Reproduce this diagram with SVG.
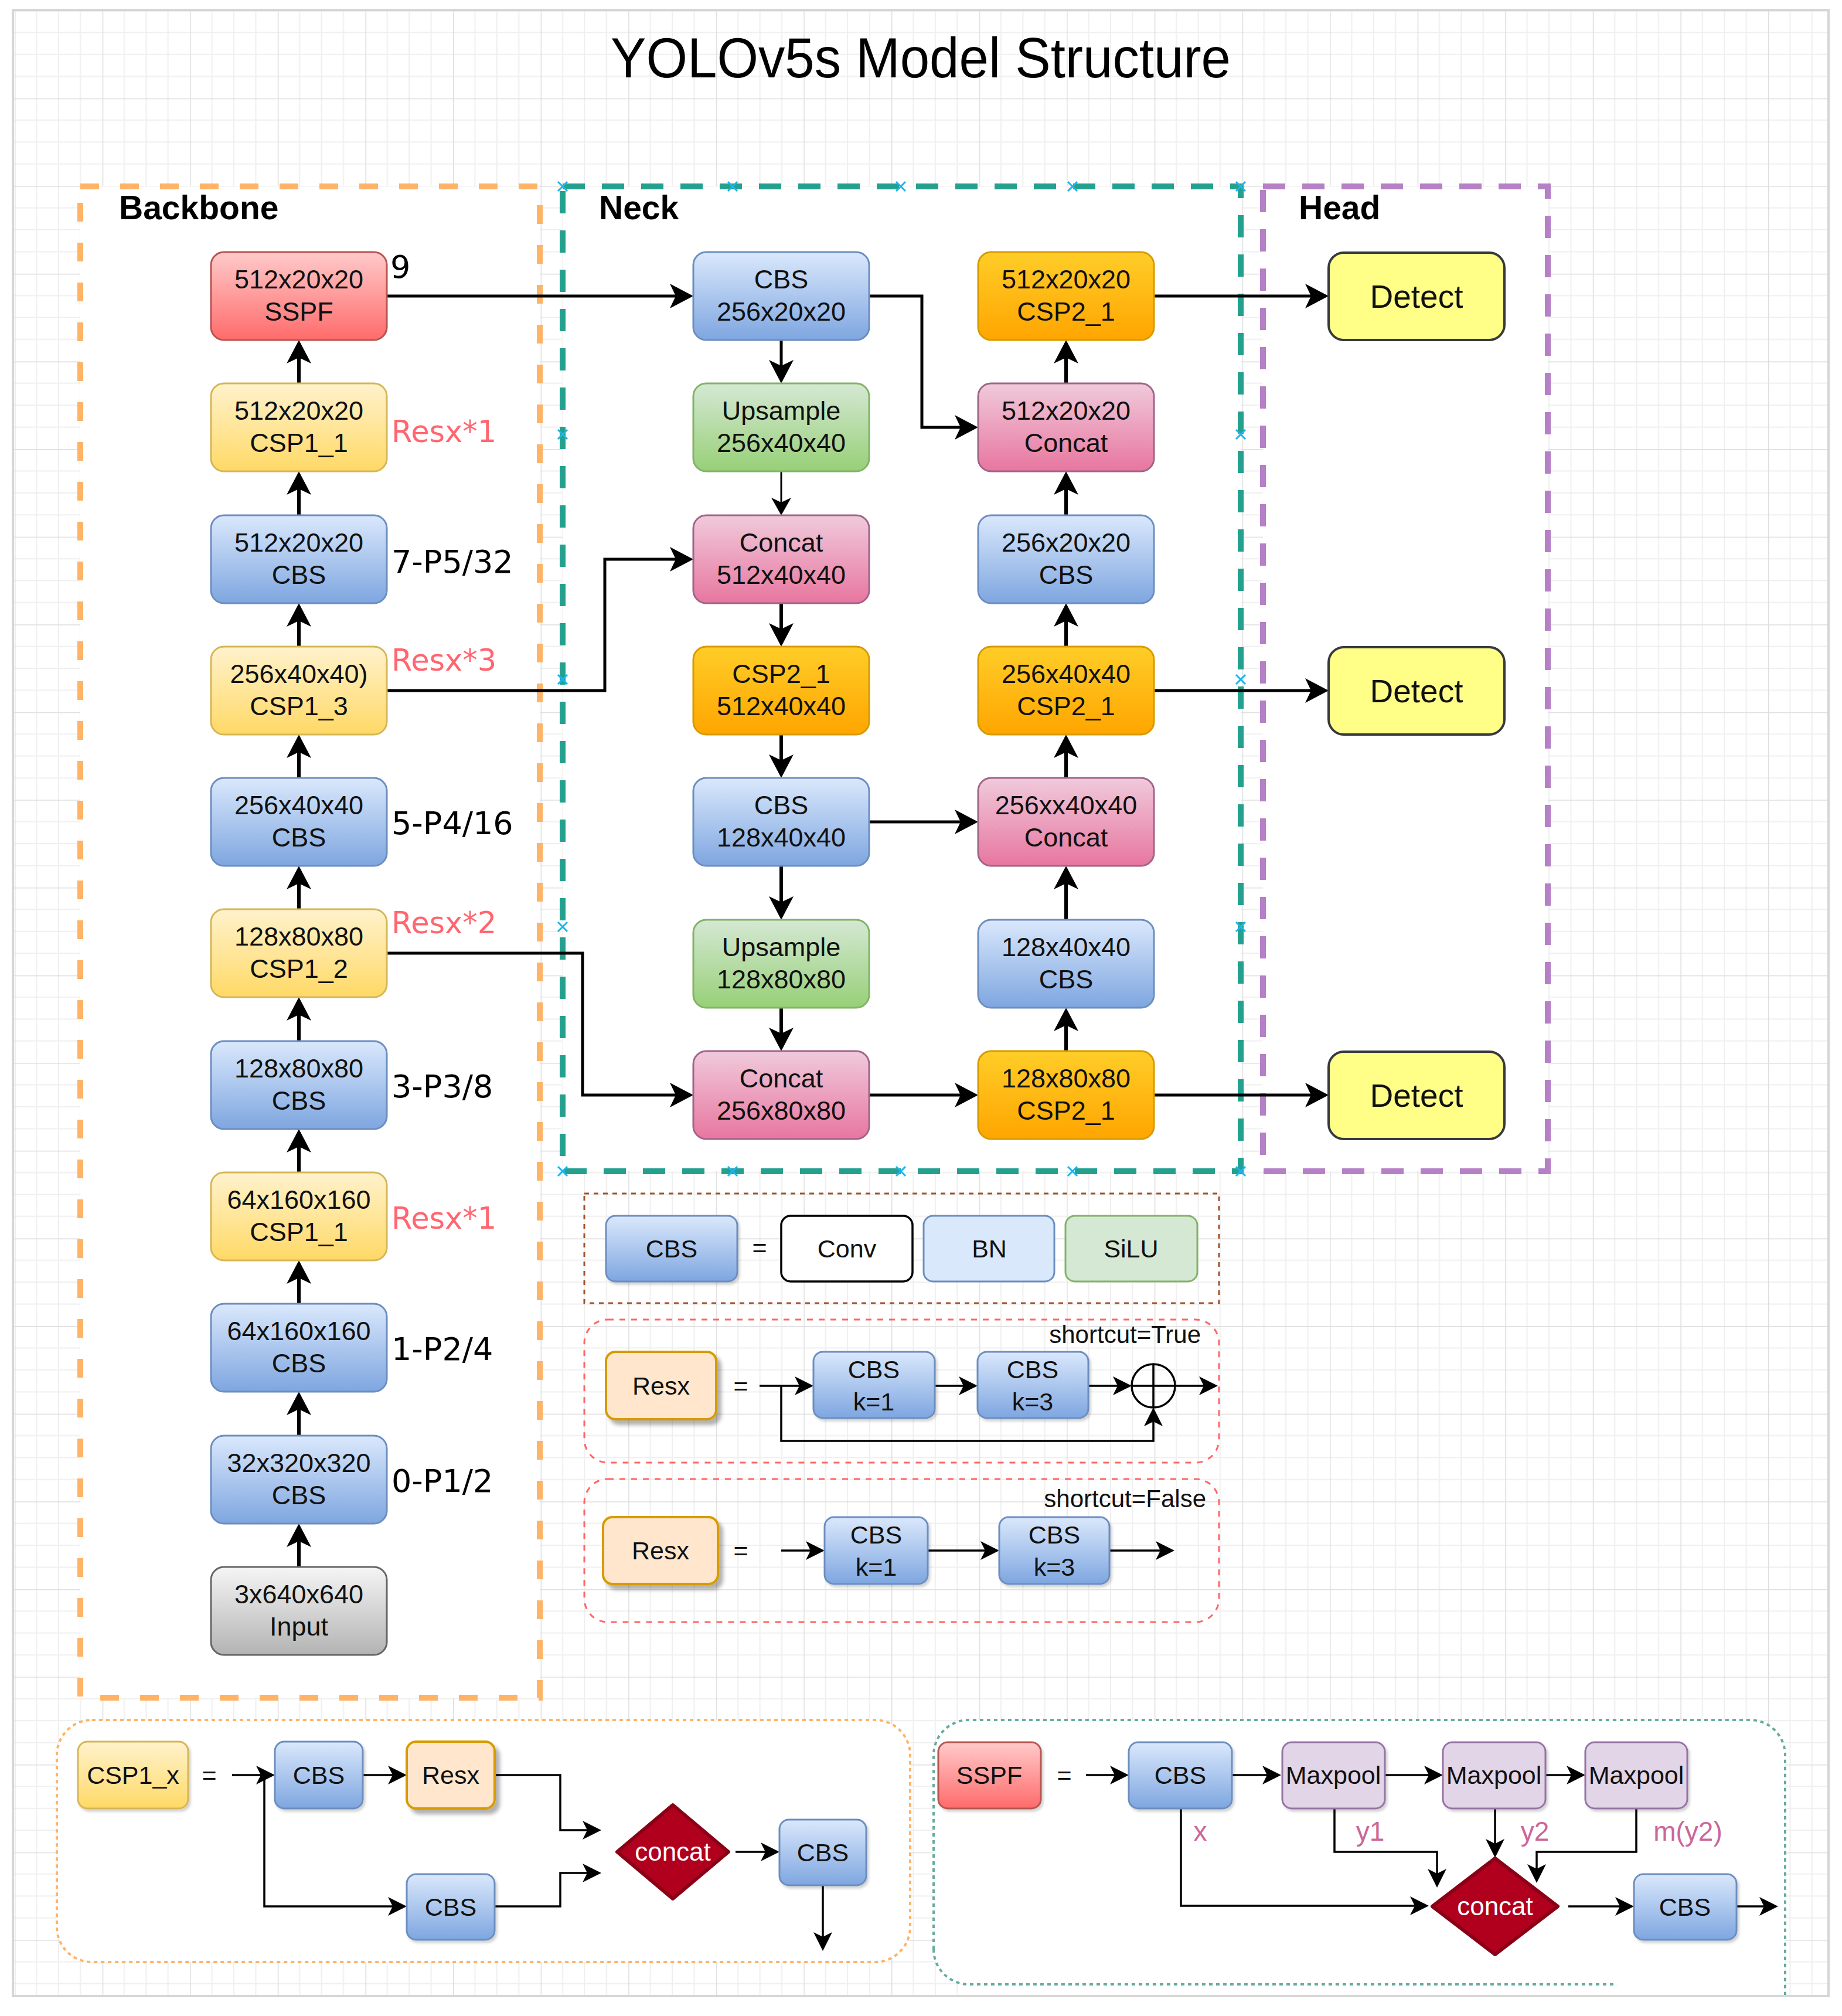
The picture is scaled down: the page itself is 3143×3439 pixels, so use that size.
<svg xmlns="http://www.w3.org/2000/svg" width="3143" height="3439" viewBox="0 0 3143 3439">
<defs>
<pattern id="grid" x="25" y="18" width="149.6" height="149.6" patternUnits="userSpaceOnUse">
<path d="M37.4,0V149.6M74.8,0V149.6M112.2,0V149.6M0,37.4H149.6M0,74.8H149.6M0,112.2H149.6" stroke="#efefef" stroke-width="2" fill="none"/>
<path d="M0,0V149.6M0,0H149.6" stroke="#dedede" stroke-width="3" fill="none"/>
</pattern>
<linearGradient id="gBlue" x1="0" y1="0" x2="0" y2="1"><stop offset="0" stop-color="#dae8fc"/><stop offset="1" stop-color="#7ea6e0"/></linearGradient>
<linearGradient id="gYel" x1="0" y1="0" x2="0" y2="1"><stop offset="0" stop-color="#fff2cc"/><stop offset="1" stop-color="#ffd966"/></linearGradient>
<linearGradient id="gRed" x1="0" y1="0" x2="0" y2="1"><stop offset="0" stop-color="#ffcaca"/><stop offset="1" stop-color="#ff6b6b"/></linearGradient>
<linearGradient id="gGrn" x1="0" y1="0" x2="0" y2="1"><stop offset="0" stop-color="#d5e8d4"/><stop offset="1" stop-color="#97d077"/></linearGradient>
<linearGradient id="gPink" x1="0" y1="0" x2="0" y2="1"><stop offset="0" stop-color="#f0cadb"/><stop offset="1" stop-color="#e8769f"/></linearGradient>
<linearGradient id="gOr" x1="0" y1="0" x2="0" y2="1"><stop offset="0" stop-color="#ffcd28"/><stop offset="1" stop-color="#ffa500"/></linearGradient>
<linearGradient id="gGray" x1="0" y1="0" x2="0" y2="1"><stop offset="0" stop-color="#f5f5f5"/><stop offset="1" stop-color="#b3b3b3"/></linearGradient>
<filter id="sh" x="-20%" y="-20%" width="150%" height="150%"><feDropShadow dx="7" dy="8" stdDeviation="3" flood-color="#000" flood-opacity="0.3"/></filter>
<filter id="sh2" x="-20%" y="-20%" width="150%" height="150%"><feDropShadow dx="3" dy="4" stdDeviation="2" flood-color="#000" flood-opacity="0.18"/></filter>
<marker id="ab" viewBox="0 -21 40 42" refX="10" refY="0" markerWidth="40" markerHeight="42" markerUnits="userSpaceOnUse" orient="auto"><path d="M0,-21 L40,0 L0,21 L10,0 Z" fill="#000"/></marker>
<marker id="am" viewBox="0 -17 30 34" refX="8" refY="0" markerWidth="30" markerHeight="34" markerUnits="userSpaceOnUse" orient="auto"><path d="M0,-17 L30,0 L0,17 L8,0 Z" fill="#000"/></marker>
<marker id="as" viewBox="0 -16 32 32" refX="8" refY="0" markerWidth="32" markerHeight="32" markerUnits="userSpaceOnUse" orient="auto"><path d="M0,-16 L32,0 L0,16 L8,0 Z" fill="#000"/></marker>
<path id="xm" d="M-8,-8L8,8M-8,8L8,-8" stroke="#19b5f0" stroke-width="3" fill="none"/>
</defs>
<style>
.t{font-family:"Liberation Sans",Arial,sans-serif;font-size:45px;text-anchor:middle;fill:#111}
.td{font-family:"Liberation Sans",Arial,sans-serif;font-size:55px;text-anchor:middle;fill:#111}
.ts{font-family:"Liberation Sans",Arial,sans-serif;font-size:43px;text-anchor:middle;fill:#111}
.te{font-family:"Liberation Sans",Arial,sans-serif;font-size:42px;text-anchor:end;fill:#111}
.tw{font-family:"Liberation Sans",Arial,sans-serif;font-size:44px;text-anchor:middle;fill:#fff}
.side{font-family:"DejaVu Sans",sans-serif;font-size:54px;fill:#000}
.res{font-family:"DejaVu Sans",sans-serif;font-size:51px;fill:#ff6670}
.hdr{font-family:"Liberation Sans",Arial,sans-serif;font-size:57px;font-weight:bold;fill:#000}
.lbl{font-family:"Liberation Sans",Arial,sans-serif;font-size:46px;fill:#cc6699;text-anchor:middle}
.blue{fill:url(#gBlue);stroke:#6c8ebf;stroke-width:3}
.yel{fill:url(#gYel);stroke:#d6b656;stroke-width:3}
.red{fill:url(#gRed);stroke:#b85450;stroke-width:3}
.grn{fill:url(#gGrn);stroke:#82b366;stroke-width:3}
.pink{fill:url(#gPink);stroke:#a0648a;stroke-width:3}
.or{fill:url(#gOr);stroke:#d79b00;stroke-width:3}
.gray{fill:url(#gGray);stroke:#666;stroke-width:3}
.det{fill:#ffff88;stroke:#36393d;stroke-width:4}
.peach{fill:#ffe6cc;stroke:#d79b00;stroke-width:4}
.mp{fill:#e1d5e7;stroke:#9673a6;stroke-width:3}
.dia{fill:#b0001e;stroke:#8a0016;stroke-width:6;stroke-linejoin:round}
.c6{fill:none;stroke:#000;stroke-width:6}
.c5{fill:none;stroke:#000;stroke-width:5}
.c3{fill:none;stroke:#000;stroke-width:3}
.cs{fill:none;stroke:#000;stroke-width:3.5}
</style>
<rect x="0" y="0" width="3143" height="3439" fill="#fff"/>
<rect x="22" y="17" width="3098" height="3388" fill="url(#grid)"/>
<rect x="22" y="17" width="3098" height="3388" fill="none" stroke="#d6d6d6" stroke-width="4"/>
<text x="1571" y="132" font-family="Liberation Sans, Arial, sans-serif" font-size="96" text-anchor="middle" textLength="1058" lengthAdjust="spacingAndGlyphs" fill="#000">YOLOv5s Model Structure</text>

<g id="containers">
<rect id="backbone" x="137" y="318" width="784" height="2578" fill="#fff" stroke="#ffb366" stroke-width="10" stroke-dasharray="32 36"/>
<rect id="neck" x="960" y="318" width="1157" height="1680" fill="#fff" stroke="#24a08e" stroke-width="10" stroke-dasharray="38 29"/>
<rect id="head" x="2155" y="318" width="486" height="1680" fill="#fff" stroke="#b580c6" stroke-width="10" stroke-dasharray="38 29"/>
<text class="hdr" x="203" y="374">Backbone</text>
<text class="hdr" x="1022" y="374">Neck</text>
<text class="hdr" x="2216" y="374">Head</text>
<rect id="legend-cbs" x="997" y="2036" width="1083" height="187" fill="none" stroke="#a0522d" stroke-width="3" stroke-dasharray="8 8"/>
<rect id="legend-res-true" x="997" y="2251" width="1083" height="244" rx="40" fill="none" stroke="#ff6666" stroke-width="3" stroke-dasharray="10 10"/>
<rect id="legend-res-false" x="997" y="2523" width="1083" height="244" rx="40" fill="none" stroke="#ff6666" stroke-width="3" stroke-dasharray="10 10"/>
<rect id="legend-csp" x="97" y="2934" width="1456" height="413" rx="60" fill="#fff" stroke="#ffb366" stroke-width="4" stroke-dasharray="6 6"/>
<path id="legend-sspf-bg" d="M1593,2994A60,60 0 0 1 1653,2934H2986A60,60 0 0 1 3046,2994V3403H1653V3385A60,60 0 0 1 1593,3325Z" fill="#fff"/>
<path id="legend-sspf" d="M1593,3325V2994A60,60 0 0 1 1653,2934H2986A60,60 0 0 1 3046,2994V3403M1593,3325A60,60 0 0 0 1653,3385H2759" fill="none" stroke="#67ab9f" stroke-width="4" stroke-dasharray="6 6"/>
</g>

<g id="markers-x">
<use href="#xm" x="960" y="318"/><use href="#xm" x="1250" y="318"/><use href="#xm" x="1537" y="318"/><use href="#xm" x="1830" y="318"/><use href="#xm" x="2117" y="318"/>
<use href="#xm" x="960" y="741"/><use href="#xm" x="960" y="1159"/><use href="#xm" x="960" y="1581"/>
<use href="#xm" x="2117" y="741"/><use href="#xm" x="2117" y="1159"/><use href="#xm" x="2117" y="1581"/>
<use href="#xm" x="960" y="1998"/><use href="#xm" x="1250" y="1998"/><use href="#xm" x="1537" y="1998"/><use href="#xm" x="1830" y="1998"/><use href="#xm" x="2117" y="1998"/>
</g>

<g id="connectors">
<path class="c6" marker-end="url(#ab)" d="M510,654V610"/>
<path class="c6" marker-end="url(#ab)" d="M510,879V834"/>
<path class="c6" marker-end="url(#ab)" d="M510,1103V1059"/>
<path class="c6" marker-end="url(#ab)" d="M510,1327V1283"/>
<path class="c6" marker-end="url(#ab)" d="M510,1551V1507"/>
<path class="c6" marker-end="url(#ab)" d="M510,1776V1731"/>
<path class="c6" marker-end="url(#ab)" d="M510,2000V1956"/>
<path class="c6" marker-end="url(#ab)" d="M510,2224V2180"/>
<path class="c6" marker-end="url(#ab)" d="M510,2449V2404"/>
<path class="c6" marker-end="url(#ab)" d="M510,2673V2629"/>
<path class="c5" marker-end="url(#ab)" d="M660,505H1153"/>
<path class="c5" marker-end="url(#ab)" d="M660,1178H1032V954H1153"/>
<path class="c5" marker-end="url(#ab)" d="M660,1626H994V1868H1153"/>
<path class="c5" marker-end="url(#ab)" d="M1333,580V624"/>
<path class="c3" marker-end="url(#am)" d="M1333,804V857"/>
<path class="c6" marker-end="url(#ab)" d="M1333,1029V1073"/>
<path class="c6" marker-end="url(#ab)" d="M1333,1253V1297"/>
<path class="c6" marker-end="url(#ab)" d="M1333,1477V1539"/>
<path class="c6" marker-end="url(#ab)" d="M1333,1719V1763"/>
<path class="c6" marker-end="url(#ab)" d="M1819,654V610"/>
<path class="c6" marker-end="url(#ab)" d="M1819,879V834"/>
<path class="c6" marker-end="url(#ab)" d="M1819,1103V1059"/>
<path class="c6" marker-end="url(#ab)" d="M1819,1327V1283"/>
<path class="c6" marker-end="url(#ab)" d="M1819,1569V1507"/>
<path class="c6" marker-end="url(#ab)" d="M1819,1793V1749"/>
<path class="c5" marker-end="url(#ab)" d="M1483,505H1573V729H1639"/>
<path class="c5" marker-end="url(#ab)" d="M1483,1402H1639"/>
<path class="c5" marker-end="url(#ab)" d="M1483,1868H1639"/>
<path class="c5" marker-end="url(#ab)" d="M1969,505H2237"/>
<path class="c5" marker-end="url(#ab)" d="M1969,1178H2237"/>
<path class="c5" marker-end="url(#ab)" d="M1969,1868H2237"/>
<path class="cs" marker-end="url(#as)" d="M1296,2364H1364"/>
<path class="cs" marker-end="url(#as)" d="M1595,2364H1644"/>
<path class="cs" marker-end="url(#as)" d="M1857,2364H1907"/>
<path class="cs" marker-end="url(#as)" d="M2005,2364H2054"/>
<path class="cs" marker-end="url(#as)" d="M1333,2364V2458H1968V2425"/>
<path class="cs" marker-end="url(#as)" d="M1333,2645H1383"/>
<path class="cs" marker-end="url(#as)" d="M1583,2645H1681"/>
<path class="cs" marker-end="url(#as)" d="M1893,2645H1980"/>
<path class="cs" marker-end="url(#as)" d="M396,3028H445"/>
<path class="cs" marker-end="url(#as)" d="M619,3028H670"/>
<path class="cs" marker-end="url(#as)" d="M844,3028H956V3122H1002"/>
<path class="cs" marker-end="url(#as)" d="M451,3028V3252H670"/>
<path class="cs" marker-end="url(#as)" d="M844,3252H956V3195H1002"/>
<path class="cs" marker-end="url(#as)" d="M1255,3159H1306"/>
<path class="cs" marker-end="url(#as)" d="M1404,3216V3304"/>
<path class="cs" marker-end="url(#as)" d="M1853,3028H1902"/>
<path class="cs" marker-end="url(#as)" d="M2102,3028H2162"/>
<path class="cs" marker-end="url(#as)" d="M2363,3028H2438"/>
<path class="cs" marker-end="url(#as)" d="M2637,3028H2681"/>
<path class="cs" marker-end="url(#as)" d="M2015,3085V3251H2414"/>
<path class="cs" marker-end="url(#as)" d="M2277,3085V3159H2452V3196"/>
<path class="cs" marker-end="url(#as)" d="M2551,3085V3145"/>
<path class="cs" marker-end="url(#as)" d="M2792,3085V3159H2622V3188"/>
<path class="cs" marker-end="url(#as)" d="M2676,3252H2764"/>
<path class="cs" marker-end="url(#as)" d="M2963,3252H3010"/>
</g>

<g id="backbone-nodes">
<g id="b-sspf"><rect class="red" x="360" y="430" width="300" height="150" rx="22"/><text class="t"><tspan x="510" y="492">512x20x20</tspan><tspan x="510" y="547">SSPF</tspan></text></g>
<g id="b-csp1-1a"><rect class="yel" x="360" y="654" width="300" height="150" rx="22"/><text class="t"><tspan x="510" y="716">512x20x20</tspan><tspan x="510" y="771">CSP1_1</tspan></text></g>
<g id="b-cbs7"><rect class="blue" x="360" y="879" width="300" height="150" rx="22"/><text class="t"><tspan x="510" y="941">512x20x20</tspan><tspan x="510" y="996">CBS</tspan></text></g>
<g id="b-csp1-3"><rect class="yel" x="360" y="1103" width="300" height="150" rx="22"/><text class="t"><tspan x="510" y="1165">256x40x40)</tspan><tspan x="510" y="1220">CSP1_3</tspan></text></g>
<g id="b-cbs5"><rect class="blue" x="360" y="1327" width="300" height="150" rx="22"/><text class="t"><tspan x="510" y="1389">256x40x40</tspan><tspan x="510" y="1444">CBS</tspan></text></g>
<g id="b-csp1-2"><rect class="yel" x="360" y="1551" width="300" height="150" rx="22"/><text class="t"><tspan x="510" y="1613">128x80x80</tspan><tspan x="510" y="1668">CSP1_2</tspan></text></g>
<g id="b-cbs3"><rect class="blue" x="360" y="1776" width="300" height="150" rx="22"/><text class="t"><tspan x="510" y="1838">128x80x80</tspan><tspan x="510" y="1893">CBS</tspan></text></g>
<g id="b-csp1-1b"><rect class="yel" x="360" y="2000" width="300" height="150" rx="22"/><text class="t"><tspan x="510" y="2062">64x160x160</tspan><tspan x="510" y="2117">CSP1_1</tspan></text></g>
<g id="b-cbs1"><rect class="blue" x="360" y="2224" width="300" height="150" rx="22"/><text class="t"><tspan x="510" y="2286">64x160x160</tspan><tspan x="510" y="2341">CBS</tspan></text></g>
<g id="b-cbs0"><rect class="blue" x="360" y="2449" width="300" height="150" rx="22"/><text class="t"><tspan x="510" y="2511">32x320x320</tspan><tspan x="510" y="2566">CBS</tspan></text></g>
<g id="b-input"><rect class="gray" x="360" y="2673" width="300" height="150" rx="22"/><text class="t"><tspan x="510" y="2735">3x640x640</tspan><tspan x="510" y="2790">Input</tspan></text></g>
</g>

<g id="backbone-labels">
<text class="side" x="666" y="474">9</text>
<text class="res" x="668" y="754">Resx*1</text>
<text class="side" x="668" y="977">7-P5/32</text>
<text class="res" x="668" y="1144">Resx*3</text>
<text class="side" x="668" y="1423">5-P4/16</text>
<text class="res" x="668" y="1592">Resx*2</text>
<text class="side" x="668" y="1872">3-P3/8</text>
<text class="res" x="668" y="2096">Resx*1</text>
<text class="side" x="668" y="2320">1-P2/4</text>
<text class="side" x="668" y="2545">0-P1/2</text>
</g>

<g id="neck-nodes">
<g id="n-cbs-a"><rect class="blue" x="1183" y="430" width="300" height="150" rx="22"/><text class="t"><tspan x="1333" y="492">CBS</tspan><tspan x="1333" y="547">256x20x20</tspan></text></g>
<g id="n-up-a"><rect class="grn" x="1183" y="654" width="300" height="150" rx="22"/><text class="t"><tspan x="1333" y="716">Upsample</tspan><tspan x="1333" y="771">256x40x40</tspan></text></g>
<g id="n-cat-a"><rect class="pink" x="1183" y="879" width="300" height="150" rx="22"/><text class="t"><tspan x="1333" y="941">Concat</tspan><tspan x="1333" y="996">512x40x40</tspan></text></g>
<g id="n-csp-a"><rect class="or" x="1183" y="1103" width="300" height="150" rx="22"/><text class="t"><tspan x="1333" y="1165">CSP2_1</tspan><tspan x="1333" y="1220">512x40x40</tspan></text></g>
<g id="n-cbs-b"><rect class="blue" x="1183" y="1327" width="300" height="150" rx="22"/><text class="t"><tspan x="1333" y="1389">CBS</tspan><tspan x="1333" y="1444">128x40x40</tspan></text></g>
<g id="n-up-b"><rect class="grn" x="1183" y="1569" width="300" height="150" rx="22"/><text class="t"><tspan x="1333" y="1631">Upsample</tspan><tspan x="1333" y="1686">128x80x80</tspan></text></g>
<g id="n-cat-b"><rect class="pink" x="1183" y="1793" width="300" height="150" rx="22"/><text class="t"><tspan x="1333" y="1855">Concat</tspan><tspan x="1333" y="1910">256x80x80</tspan></text></g>
<g id="n-csp-c"><rect class="or" x="1669" y="430" width="300" height="150" rx="22"/><text class="t"><tspan x="1819" y="492">512x20x20</tspan><tspan x="1819" y="547">CSP2_1</tspan></text></g>
<g id="n-cat-c"><rect class="pink" x="1669" y="654" width="300" height="150" rx="22"/><text class="t"><tspan x="1819" y="716">512x20x20</tspan><tspan x="1819" y="771">Concat</tspan></text></g>
<g id="n-cbs-c"><rect class="blue" x="1669" y="879" width="300" height="150" rx="22"/><text class="t"><tspan x="1819" y="941">256x20x20</tspan><tspan x="1819" y="996">CBS</tspan></text></g>
<g id="n-csp-d"><rect class="or" x="1669" y="1103" width="300" height="150" rx="22"/><text class="t"><tspan x="1819" y="1165">256x40x40</tspan><tspan x="1819" y="1220">CSP2_1</tspan></text></g>
<g id="n-cat-d"><rect class="pink" x="1669" y="1327" width="300" height="150" rx="22"/><text class="t"><tspan x="1819" y="1389">256xx40x40</tspan><tspan x="1819" y="1444">Concat</tspan></text></g>
<g id="n-cbs-d"><rect class="blue" x="1669" y="1569" width="300" height="150" rx="22"/><text class="t"><tspan x="1819" y="1631">128x40x40</tspan><tspan x="1819" y="1686">CBS</tspan></text></g>
<g id="n-csp-e"><rect class="or" x="1669" y="1793" width="300" height="150" rx="22"/><text class="t"><tspan x="1819" y="1855">128x80x80</tspan><tspan x="1819" y="1910">CSP2_1</tspan></text></g>
</g>

<g id="head-nodes">
<g id="h-det1"><rect class="det" x="2267" y="431" width="300" height="149" rx="26"/><text class="td" x="2417" y="525">Detect</text></g>
<g id="h-det2"><rect class="det" x="2267" y="1104" width="300" height="149" rx="26"/><text class="td" x="2417" y="1198">Detect</text></g>
<g id="h-det3"><rect class="det" x="2267" y="1794" width="300" height="149" rx="26"/><text class="td" x="2417" y="1888">Detect</text></g>
</g>

<g id="legend-cbs-nodes">
<g id="l-cbs"><rect class="blue" x="1034" y="2074" width="224" height="112" rx="16" filter="url(#sh2)"/><text class="ts" x="1146" y="2145">CBS</text></g>
<text class="ts" x="1296" y="2143">=</text>
<g id="l-conv"><rect x="1333" y="2074" width="224" height="112" rx="16" fill="#fff" stroke="#000" stroke-width="3.5"/><text class="ts" x="1445" y="2145">Conv</text></g>
<g id="l-bn"><rect x="1576" y="2074" width="223" height="112" rx="16" fill="#dae8fc" stroke="#6c8ebf" stroke-width="3"/><text class="ts" x="1688" y="2145">BN</text></g>
<g id="l-silu"><rect x="1818" y="2074" width="225" height="112" rx="16" fill="#d5e8d4" stroke="#82b366" stroke-width="3"/><text class="ts" x="1930" y="2145">SiLU</text></g>
</g>

<g id="legend-res-true-nodes">
<text class="te" x="2049" y="2291">shortcut=True</text>
<g id="l1-resx"><rect class="peach" x="1034" y="2306" width="188" height="115" rx="16" filter="url(#sh)"/><text class="ts" x="1128" y="2379">Resx</text></g>
<text class="ts" x="1264" y="2379">=</text>
<g id="l1-cbs1"><rect class="blue" x="1388" y="2306" width="207" height="113" rx="16" filter="url(#sh2)"/><text class="ts"><tspan x="1491" y="2351">CBS</tspan><tspan x="1491" y="2406">k=1</tspan></text></g>
<g id="l1-cbs3"><rect class="blue" x="1668" y="2306" width="189" height="113" rx="16" filter="url(#sh2)"/><text class="ts"><tspan x="1762" y="2351">CBS</tspan><tspan x="1762" y="2406">k=3</tspan></text></g>
<g id="l1-add"><circle cx="1968" cy="2364" r="37" fill="none" stroke="#000" stroke-width="3.5"/><path d="M1931,2364H2005M1968,2327V2401" stroke="#000" stroke-width="3.5"/></g>
</g>

<g id="legend-res-false-nodes">
<text class="te" x="2058" y="2571">shortcut=False</text>
<g id="l2-resx"><rect class="peach" x="1029" y="2588" width="196" height="114" rx="16" filter="url(#sh)"/><text class="ts" x="1127" y="2660">Resx</text></g>
<text class="ts" x="1264" y="2660">=</text>
<g id="l2-cbs1"><rect class="blue" x="1407" y="2588" width="176" height="114" rx="16" filter="url(#sh2)"/><text class="ts"><tspan x="1495" y="2633">CBS</tspan><tspan x="1495" y="2688">k=1</tspan></text></g>
<g id="l2-cbs3"><rect class="blue" x="1705" y="2588" width="188" height="114" rx="16" filter="url(#sh2)"/><text class="ts"><tspan x="1799" y="2633">CBS</tspan><tspan x="1799" y="2688">k=3</tspan></text></g>
</g>

<g id="legend-csp-nodes">
<g id="c-csp"><rect class="yel" x="133" y="2971" width="188" height="114" rx="16" filter="url(#sh2)"/><text class="ts" x="227" y="3043">CSP1_x</text></g>
<text class="ts" x="357" y="3043">=</text>
<g id="c-cbs1"><rect class="blue" x="469" y="2971" width="150" height="114" rx="16" filter="url(#sh2)"/><text class="ts" x="544" y="3043">CBS</text></g>
<g id="c-resx"><rect class="peach" x="694" y="2971" width="150" height="114" rx="16" filter="url(#sh)"/><text class="ts" x="769" y="3043">Resx</text></g>
<g id="c-cbs2"><rect class="blue" x="694" y="3197" width="150" height="112" rx="16" filter="url(#sh2)"/><text class="ts" x="769" y="3268">CBS</text></g>
<g id="c-concat"><path class="dia" d="M1148,3079L1243,3159L1148,3239L1053,3159Z"/><text class="tw" x="1148" y="3174">concat</text></g>
<g id="c-cbs3"><rect class="blue" x="1330" y="3104" width="148" height="112" rx="16" filter="url(#sh2)"/><text class="ts" x="1404" y="3175">CBS</text></g>
</g>

<g id="legend-sspf-nodes">
<g id="s-sspf"><rect class="red" x="1601" y="2972" width="175" height="113" rx="16" filter="url(#sh2)"/><text class="ts" x="1688" y="3043">SSPF</text></g>
<text class="ts" x="1816" y="3043">=</text>
<g id="s-cbs1"><rect class="blue" x="1926" y="2972" width="176" height="113" rx="16" filter="url(#sh2)"/><text class="ts" x="2014" y="3043">CBS</text></g>
<g id="s-mp1"><rect class="mp" x="2188" y="2972" width="175" height="113" rx="16" filter="url(#sh2)"/><text class="ts" x="2275" y="3043">Maxpool</text></g>
<g id="s-mp2"><rect class="mp" x="2462" y="2972" width="175" height="113" rx="16" filter="url(#sh2)"/><text class="ts" x="2549" y="3043">Maxpool</text></g>
<g id="s-mp3"><rect class="mp" x="2705" y="2972" width="174" height="113" rx="16" filter="url(#sh2)"/><text class="ts" x="2792" y="3043">Maxpool</text></g>
<g id="s-concat"><path class="dia" d="M2551,3170L2658,3252L2551,3334L2444,3252Z"/><text class="tw" x="2551" y="3267">concat</text></g>
<g id="s-cbs2"><rect class="blue" x="2788" y="3197" width="175" height="112" rx="16" filter="url(#sh2)"/><text class="ts" x="2875" y="3268">CBS</text></g>
<text class="lbl" x="2048" y="3140">x</text>
<text class="lbl" x="2338" y="3140">y1</text>
<text class="lbl" x="2619" y="3140">y2</text>
<text class="lbl" x="2880" y="3140">m(y2)</text>
</g>
</svg>
